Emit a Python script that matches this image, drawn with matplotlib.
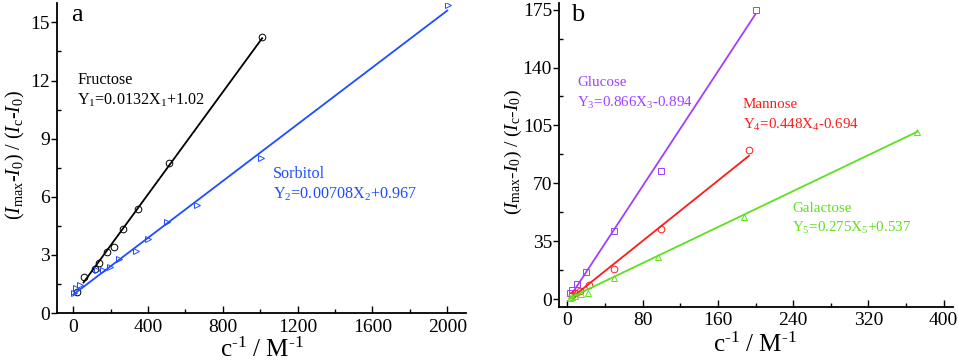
import numpy as np
import matplotlib
matplotlib.use('Agg')
import matplotlib.pyplot as plt

plt.rcParams['font.family'] = 'Liberation Serif'
plt.rcParams['mathtext.fontset'] = 'custom'
plt.rcParams['mathtext.rm'] = 'Liberation Serif'
plt.rcParams['mathtext.it'] = 'Liberation Serif:italic'

# panel a
fru_x = [21, 60, 115, 140, 182, 216, 264, 346, 513, 1010]
fru_y = [1.07, 1.84, 2.25, 2.6, 3.16, 3.42, 4.32, 5.35, 7.72, 14.26]
sor_x = [5, 13, 36, 125, 160, 196, 246, 335, 401, 499, 664, 1003, 2003]
sor_y = [1.05, 1.27, 1.44, 2.22, 2.22, 2.39, 2.77, 3.21, 3.8, 4.71, 5.59, 7.98, 15.9]

# panel b
glu_x = [3, 5, 10, 20, 50, 100, 200]
glu_y = [3.6, 5.3, 9.1, 16.4, 41.4, 77.5, 175]
man_x = [5, 8, 13, 23, 50, 99, 193]
man_y = [2.5, 3.8, 5.0, 8.5, 18.2, 42.4, 90.2]
gal_x = [3, 5, 8, 14, 22, 50, 96, 188, 372]
gal_y = [0.8, 1.4, 2.0, 2.8, 3.8, 12.7, 25.4, 49.7, 101.2]

# fitted lines as drawn: slope, intercept, x range
fru_fit = (0.0132, 0.85, 55, 1010)
sor_fit = (0.00733, 0.95, 0, 2000)
glu_fit = (0.866, -0.894, 5, 200)
man_fit = (0.455, -1.2, 7, 193)
gal_fit = (0.272, 0.0, 2, 372)

BLACK = '#000000'
BLUE = '#1f4cff'
PURPLE = '#a040ff'
RED = '#ff1a1a'
GREEN = '#5ee01e'

ylabel = r'$(I_{\rm max}\text{-}I_0)\ /\ (I_{\rm c}\text{-}I_0)$'
xlabel = r'c$^{\text{-}1}$ / M$^{\text{-}1}$'

W, H = 958, 362
fig = plt.figure(figsize=(W / 100, H / 100), dpi=100)
ax1 = fig.add_axes([57 / W, 1 - 313 / H, 409 / W, 310 / H])
ax2 = fig.add_axes([559 / W, 1 - 306.7 / H, 394 / W, 303.7 / H])


def draw(ax, x, y, fit, marker, color):
    ax.plot(x, y, linestyle='none', marker=marker, markersize=4.8,
            markerfacecolor='none', markeredgecolor=color, markeredgewidth=0.7)
    k, b, x0, x1 = fit
    xs = np.array([x0, x1])
    ax.plot(xs, k * xs + b, color=color, lw=1.3)


def style(ax):
    for s in ['top', 'right']:
        ax.spines[s].set_visible(False)
    for s in ['left', 'bottom']:
        ax.spines[s].set_linewidth(1.3)
    ax.tick_params(axis='x', which='major', direction='in', length=5, width=1, labelsize=14, pad=4)
    ax.tick_params(axis='x', which='minor', direction='in', length=3, width=1)
    ax.tick_params(axis='y', which='major', direction='out', length=4, width=1, labelsize=14, pad=1)
    ax.tick_params(axis='y', which='minor', direction='in', length=3, width=1)


draw(ax1, fru_x, fru_y, fru_fit, 'o', BLACK)
draw(ax1, sor_x, sor_y, sor_fit, '>', BLUE)
ax1.set_xlim(-87, 2100)
ax1.set_ylim(0, 16)
ax1.set_xticks([0, 400, 800, 1200, 1600, 2000])
ax1.set_xticks([200, 600, 1000, 1400, 1800], minor=True)
ax1.set_yticks([0, 3, 6, 9, 12, 15])
ax1.set_yticks([1.5, 4.5, 7.5, 10.5, 13.5], minor=True)
style(ax1)

draw(ax2, glu_x, glu_y, glu_fit, 's', PURPLE)
draw(ax2, man_x, man_y, man_fit, 'o', RED)
draw(ax2, gal_x, gal_y, gal_fit, '^', GREEN)
ax2.set_xlim(-9, 410)
ax2.set_ylim(-4.6, 179)
ax2.set_xticks([0, 80, 160, 240, 320, 400])
ax2.set_xticks([40, 120, 200, 280, 360], minor=True)
ax2.set_yticks([0, 35, 70, 105, 140, 175])
ax2.set_yticks([17.5, 52.5, 87.5, 122.5, 157.5], minor=True)
style(ax2)

fig.text(15 / W, 1 - 155 / H, ylabel, rotation=90, fontsize=14.5, ha='center', va='center')
fig.text(513 / W, 1 - 152 / H, ylabel, rotation=90, fontsize=14, ha='center', va='center')
fig.text(262 / W, 1 - 357 / H, xlabel, fontsize=18, ha='center', va='baseline')
fig.text(755 / W, 1 - 352 / H, xlabel, fontsize=18, ha='center', va='baseline')

fig.text(71 / W, 1 - 15 / H, 'a', fontsize=19, ha='left', va='center')
fig.text(571 / W, 1 - 15 / H, 'b', fontsize=19, ha='left', va='center')


def label(x, y, name, eq, color, fs):
    fig.text(x / W, 1 - y / H, name, fontsize=fs, color=color, ha='left', va='center')
    fig.text(x / W, 1 - (y + 20) / H, eq, fontsize=fs, color=color, ha='left', va='center')


label(77, 80, 'Fructose', r'Y$_1$=0.0132X$_1$+1.02', BLACK, 11.6)
label(273, 174, 'Sorbitol', r'Y$_2$=0.00708X$_2$+0.967', BLUE, 11.6)
label(577, 83, 'Glucose', r'Y$_3$=0.866X$_3$-0.894', PURPLE, 10.8)
label(743, 105, 'Mannose', r'Y$_4$=0.448X$_4$-0.694', RED, 10.8)
label(792, 208, 'Galactose', r'Y$_5$=0.275X$_5$+0.537', GREEN, 10.8)

fig.savefig('out.png', dpi=100)
